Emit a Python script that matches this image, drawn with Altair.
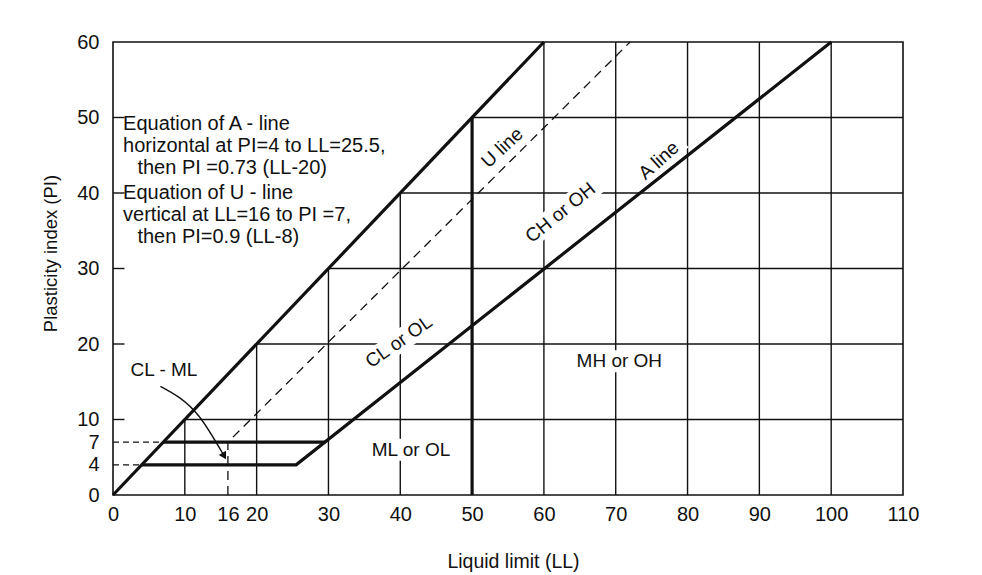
import altair as alt
import pandas as pd

# ---------------- data (LL = liquid limit, PI = plasticity index) ----------------
upper_ll = [0, 60]
upper_pi = [0, 60]
a_line_ll = [4, 25.5, 100]
a_line_pi = [4, 4, 60]
pi7_ll = [7, 29.6]
pi7_pi = [7, 7]
u_line_ll = [16, 16, 72]
u_line_pi = [0, 7, 60]
ll50_ll = [50, 50]
ll50_pi = [0, 50]
dash4_ll = [0, 4]
dash4_pi = [4, 4]
dash7_ll = [0, 7]
dash7_pi = [7, 7]

grid_v_ll = [10, 20, 30, 40, 60, 70, 80, 90, 100]
grid_v_top = [10, 20, 30, 40, 60, 60, 60, 60, 60]
grid_h_pi = [10, 20, 30, 40, 50]
grid_h_start = [10, 20, 30, 40, 50]
grid_h_end = [110, 110, 110, 110, 110]
inner_tick_pi = [10, 20, 30, 40, 50]
inner_tick_len = 1.6

x_ticks = [0, 10, 16, 20, 30, 40, 50, 60, 70, 80, 90, 100, 110]
y_ticks = [0, 4, 7, 10, 20, 30, 40, 50, 60]

zone_labels = ["ML or OL", "MH or OH", "CL or OL", "CH or OH", "U line", "A line"]
zone_ll = [41.5, 70.5, 39.8, 62.3, 54.2, 76.0]
zone_pi = [6.0, 17.7, 20.3, 37.4, 46.0, 44.3]
zone_angle = [0, 0, 325, 321, 317, 318]

note_lines = [
    "Equation of  A - line",
    "horizontal at PI=4 to LL=25.5,",
    "then PI =0.73 (LL-20)",
    "Equation of  U - line",
    "vertical at  LL=16 to PI =7,",
    "then PI=0.9 (LL-8)",
]
note_ll = [1.4, 1.4, 3.4, 1.4, 1.4, 3.4]
note_pi = [49.1, 46.2, 43.3, 40.0, 37.1, 34.2]

clml_label = ["CL - ML"]
clml_ll = [7.1]
clml_pi = [16.6]
arrow_ll = [6.6, 12.0, 15.4]
arrow_pi = [14.4, 10.4, 5.3]

# ---------------- style ----------------
FONT = "Liberation Sans, Arial, sans-serif"
INK = "#111111"
# white knock-out box behind each zone label (width, height in px)
halo_w = [92, 96, 90, 98, 58, 62]
halo_h = [22, 22, 22, 22, 18, 20]
halo_paths = ["M-1,-{h}H1V{h}H-1Z".format(h=round(h / w, 4)) for w, h in zip(halo_w, halo_h)]

xscale = alt.Scale(domain=[0, 110], nice=False, zero=False)
yscale = alt.Scale(domain=[0, 60], nice=False, zero=False)

xaxis = alt.Axis(
    values=x_ticks, grid=False, ticks=False, domain=False,
    labelFont=FONT, labelFontSize=20, labelColor=INK, labelPadding=9,
    labelOverlap=False, labelBound=False, labelFlush=False,
    title="Liquid limit (LL)", titleFont=FONT, titleFontSize=19.5, titleFontWeight="normal",
    titleColor=INK, titleX=400, titleY=66, titleBaseline="middle", titleAnchor="middle",
    titleAlign="center",
)
yaxis = alt.Axis(
    values=y_ticks, grid=False, ticks=False, domain=False,
    labelFont=FONT, labelFontSize=20, labelColor=INK, labelPadding=14,
    labelOverlap=False, labelBound=False, labelFlush=False,
    title="Plasticity index (PI)", titleFont=FONT, titleFontSize=18.5, titleFontWeight="normal",
    titleColor=INK, titleX=-63, titleY=211, titleBaseline="middle", titleAlign="center",
    titleAngle=270,
)

X = alt.X("LL:Q", scale=xscale, axis=xaxis)
Y = alt.Y("PI:Q", scale=yscale, axis=yaxis)


def path(ll, pi, sw, dash=None, interp=None):
    df = pd.DataFrame({"LL": ll, "PI": pi, "order": list(range(len(ll)))})
    kw = dict(color=INK, strokeWidth=sw, strokeCap="butt")
    if dash:
        kw["strokeDash"] = dash
    if interp:
        kw["interpolate"] = interp
    return alt.Chart(df).mark_line(**kw).encode(x=X, y=Y, order="order:Q")


vgrid_df = pd.DataFrame({"LL": grid_v_ll, "PI": [0] * len(grid_v_ll), "PI2": grid_v_top})
vgrid = alt.Chart(vgrid_df).mark_rule(color=INK, strokeWidth=1.4).encode(
    x=X, y=Y, y2="PI2:Q")

hgrid_df = pd.DataFrame({"PI": grid_h_pi, "LL": grid_h_start, "LL2": grid_h_end})
hgrid = alt.Chart(hgrid_df).mark_rule(color=INK, strokeWidth=1.4).encode(
    x=X, x2="LL2:Q", y=Y)

itick_df = pd.DataFrame({"PI": inner_tick_pi, "LL": [0] * len(inner_tick_pi),
                         "LL2": [inner_tick_len] * len(inner_tick_pi)})
iticks = alt.Chart(itick_df).mark_rule(color=INK, strokeWidth=1.4).encode(
    x=X, x2="LL2:Q", y=Y)

zone_df = pd.DataFrame({"LL": zone_ll, "PI": zone_pi, "label": zone_labels,
                        "ang": zone_angle, "sz": [w * w for w in halo_w]})
zone_halo = alt.Chart(zone_df).mark_point(
    filled=True, color="white", opacity=1, strokeWidth=0).encode(
    x=X, y=Y,
    shape=alt.Shape("label:N", scale=alt.Scale(domain=zone_labels, range=halo_paths), legend=None),
    size=alt.Size("sz:Q", scale=None),
    angle=alt.Angle("ang:Q", scale=None))
zone_text = alt.Chart(zone_df).mark_text(
    font=FONT, fontSize=19, color=INK, align="center", baseline="middle").encode(
    x=X, y=Y, text="label:N", angle=alt.Angle("ang:Q", scale=None))

note_df = pd.DataFrame({"LL": note_ll, "PI": note_pi, "label": note_lines})
note_text = alt.Chart(note_df).mark_text(
    font=FONT, fontSize=20, color=INK, align="left", baseline="middle").encode(
    x=X, y=Y, text="label:N")

clml_df = pd.DataFrame({"LL": clml_ll, "PI": clml_pi, "label": clml_label})
clml_text = alt.Chart(clml_df).mark_text(
    font=FONT, fontSize=19, color=INK, align="center", baseline="middle").encode(
    x=X, y=Y, text="label:N")

arrow_head_df = pd.DataFrame({"LL": arrow_ll[-1:], "PI": arrow_pi[-1:]})
arrow_head = alt.Chart(arrow_head_df).mark_point(
    shape="triangle", angle=150, filled=True, color=INK, size=70, opacity=1).encode(x=X, y=Y)

layers = [
    vgrid, hgrid, iticks,
    zone_halo,
    path(dash4_ll, dash4_pi, 1.3, [6, 4]),
    path(dash7_ll, dash7_pi, 1.3, [6, 4]),
    path(u_line_ll, u_line_pi, 1.3, [9, 6]),
    path(ll50_ll, ll50_pi, 3.2),
    path(upper_ll, upper_pi, 3.2),
    path(a_line_ll, a_line_pi, 3.2),
    path(pi7_ll, pi7_pi, 3.2),
    zone_text, note_text, clml_text,
    path(arrow_ll, arrow_pi, 1.4, interp="monotone"),
    arrow_head,
]

chart = alt.layer(*layers).properties(
    width=790, height=453,
    autosize=alt.AutoSizeParams(type="none"),
    padding={"left": 105, "top": 34, "right": 70, "bottom": 78},
    background="white",
).configure_view(stroke=INK, strokeWidth=1.6)

chart.save("out.html", embed_options={"renderer": "svg", "actions": False})
